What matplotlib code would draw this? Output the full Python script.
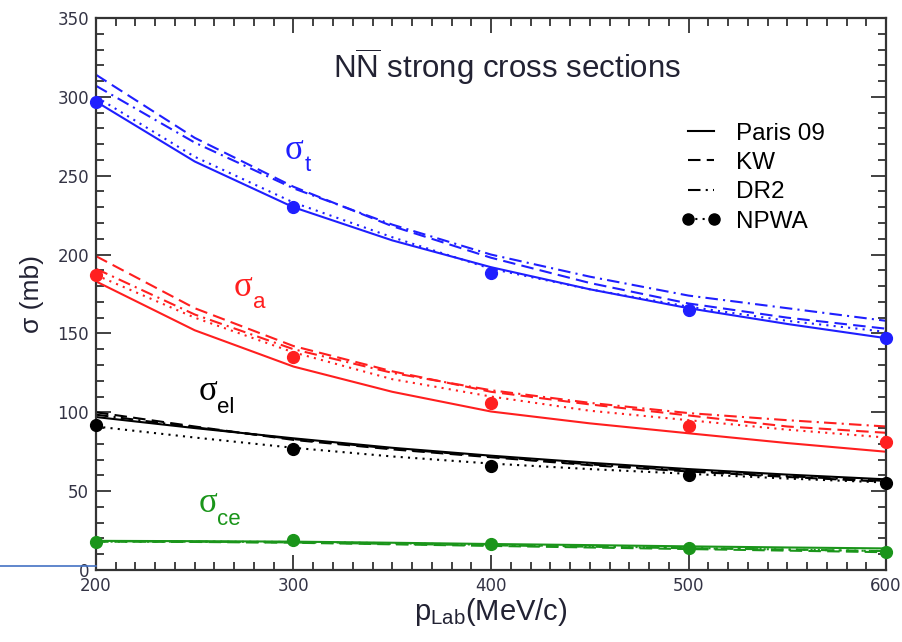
import numpy as np
import matplotlib
matplotlib.use("Agg")
import matplotlib.pyplot as plt
from matplotlib.lines import Line2D
from matplotlib.ticker import MultipleLocator

plt.rcParams["mathtext.fontset"] = "custom"
plt.rcParams["mathtext.rm"] = "Liberation Sans"
plt.rcParams["mathtext.it"] = "Liberation Sans:italic"

# ── data ─────────────────────────────────────────────────────
p_curve = [200, 250, 300, 350, 400, 450, 500, 550, 600]
p_npwa = [200, 300, 400, 500, 600]

tot_paris = [297, 259, 230, 209, 192, 178, 166, 156, 147]
tot_kw    = [314, 274, 243, 218, 198, 182, 169, 160, 153]
tot_dr2   = [307, 271, 242, 219, 200, 186, 174, 166, 158]
tot_npwa_curve = [300, 262, 233, 211, 191, 178, 167, 158, 151]
tot_npwa  = [297, 230, 188, 165, 147]

ann_paris = [183, 152, 129, 113, 100.5, 93, 86.7, 80.5, 75]
ann_kw    = [199, 166, 142, 126, 113, 105, 98, 91, 87]
ann_dr2   = [191, 162, 140, 125, 114, 106, 99.5, 95, 91]
ann_npwa_curve = [187, 160, 138, 121, 110, 101, 95, 89, 84]
ann_npwa  = [187, 135, 106, 91, 81]

el_paris = [97, 90, 83.5, 77.5, 72.5, 68, 64, 60.5, 57.5]
el_kw    = [100, 91, 82.5, 76.5, 71.5, 66.5, 62.5, 59, 56]
el_dr2   = [98.5, 90.5, 83, 77, 72, 67, 63, 59.5, 56.5]
el_npwa_curve = [91, 84, 77.5, 72, 67.5, 64, 61, 58, 55.5]
el_npwa  = [92, 76.5, 66, 60, 55]

ce_paris = [18.5, 18.3, 18, 17.3, 16.5, 15.8, 15, 14.3, 13.7]
ce_kw    = [18, 17.8, 17.3, 16.3, 15.3, 14.3, 13.3, 12.3, 11.3]
ce_dr2   = [18.3, 18, 17.5, 16.6, 15.7, 14.8, 13.8, 13, 12]
ce_npwa_curve = [18, 18, 17.8, 17, 16, 15, 14, 13, 12]
ce_npwa  = [18, 19, 16.3, 14.2, 11.6]

models = ["Paris 09", "KW", "DR2", "NPWA"]

# ── styles ───────────────────────────────────────────────────
LW = 1.5
STY = {
    "Paris 09": dict(linestyle="-"),
    "KW":       dict(linestyle=(0, (6, 3))),
    "DR2":      dict(linestyle=(0, (6, 2.5, 1, 2.5))),
    "NPWA":     dict(linestyle=(0, (1, 2.5))),
}

groups = [
    ("#1f1fff", tot_paris, tot_kw, tot_dr2, tot_npwa_curve, tot_npwa),
    ("#ff1f1f", ann_paris, ann_kw, ann_dr2, ann_npwa_curve, ann_npwa),
    ("#000000", el_paris, el_kw, el_dr2, el_npwa_curve, el_npwa),
    ("#1a951a", ce_paris, ce_kw, ce_dr2, ce_npwa_curve, ce_npwa),
]

fig = plt.figure(figsize=(9.03, 6.42), dpi=100)
ax = fig.add_axes([0.1063, 0.1121, 0.9812 - 0.1063, 0.972 - 0.1121])

for color, paris, kw, dr2, npc, npp in groups:
    for name, ys in zip(models, [paris, kw, dr2, npc]):
        ax.plot(p_curve, ys, color=color, lw=LW, **STY[name])
    ax.plot(p_npwa, npp, "o", color=color, ms=8.5, clip_on=False, zorder=5)

ax.set_xlim(200, 600)
ax.set_ylim(0, 350)

ax.xaxis.set_major_locator(MultipleLocator(100))
ax.xaxis.set_minor_locator(MultipleLocator(10))
ax.yaxis.set_major_locator(MultipleLocator(50))
ax.yaxis.set_minor_locator(MultipleLocator(10))
ax.tick_params(which="both", direction="in", top=True, right=True,
               color="#333333", width=1.3)
ax.tick_params(which="major", length=11, labelsize=12, pad=5,
               labelcolor="#333344")
ax.tick_params(which="minor", length=5.5)
for lab in ax.get_xticklabels() + ax.get_yticklabels():
    lab.set_family("DejaVu Sans")
for sp in ax.spines.values():
    sp.set_color("#333333")
    sp.set_linewidth(1.6)

ax.set_xlabel(r"p$_{\mathrm{Lab}}$(MeV/c)", fontsize=21,
              family="Liberation Sans", color="#222233", labelpad=1)
ax.set_ylabel("σ (mb)", fontsize=19, family="Liberation Sans",
              color="#222233", labelpad=10)

ax.text(0.52, 0.912, r"N$\overline{\mathrm{N}}$ strong cross sections",
        transform=ax.transAxes, ha="center", va="center",
        fontsize=22.5, family="Liberation Sans", color="#222233")

# curve labels
sig_labels = [
    ("#1f1fff", "t", 300.5, 266),
    ("#ff1f1f", "a", 274.5, 179),
    ("#000000", "el", 256.5, 113),
    ("#1a951a", "ce", 256.5, 42),
]
for color, sub, xs, ys in sig_labels:
    ax.text(xs, ys, "σ", color=color, fontsize=25,
            family="Liberation Serif", ha="center", va="center")
    ax.annotate(sub, (xs, ys), xytext=(7, -11), textcoords="offset points",
                color=color, fontsize=16, family="Liberation Sans",
                ha="left", va="center")

# legend
handles = [
    Line2D([], [], color="black", lw=LW, **STY["Paris 09"]),
    Line2D([], [], color="black", lw=LW, **STY["KW"]),
    Line2D([], [], color="black", lw=LW, **STY["DR2"]),
    Line2D([], [], color="black", lw=LW, marker="o", ms=8,
           **STY["NPWA"]),
]
ax.legend(handles, models, loc="upper left", bbox_to_anchor=(0.712, 0.85),
          frameon=False, handlelength=1.7, handletextpad=0.6,
          labelspacing=0.3, numpoints=2,
          prop={"family": "Liberation Sans", "size": 17.5})

# stray blue line at the left edge of the slide
fig.add_artist(Line2D([0, 96 / 903], [1 - 566 / 642, 1 - 566 / 642],
                      color="#4472c4", lw=1.2))

fig.savefig("out.png", dpi=100)
